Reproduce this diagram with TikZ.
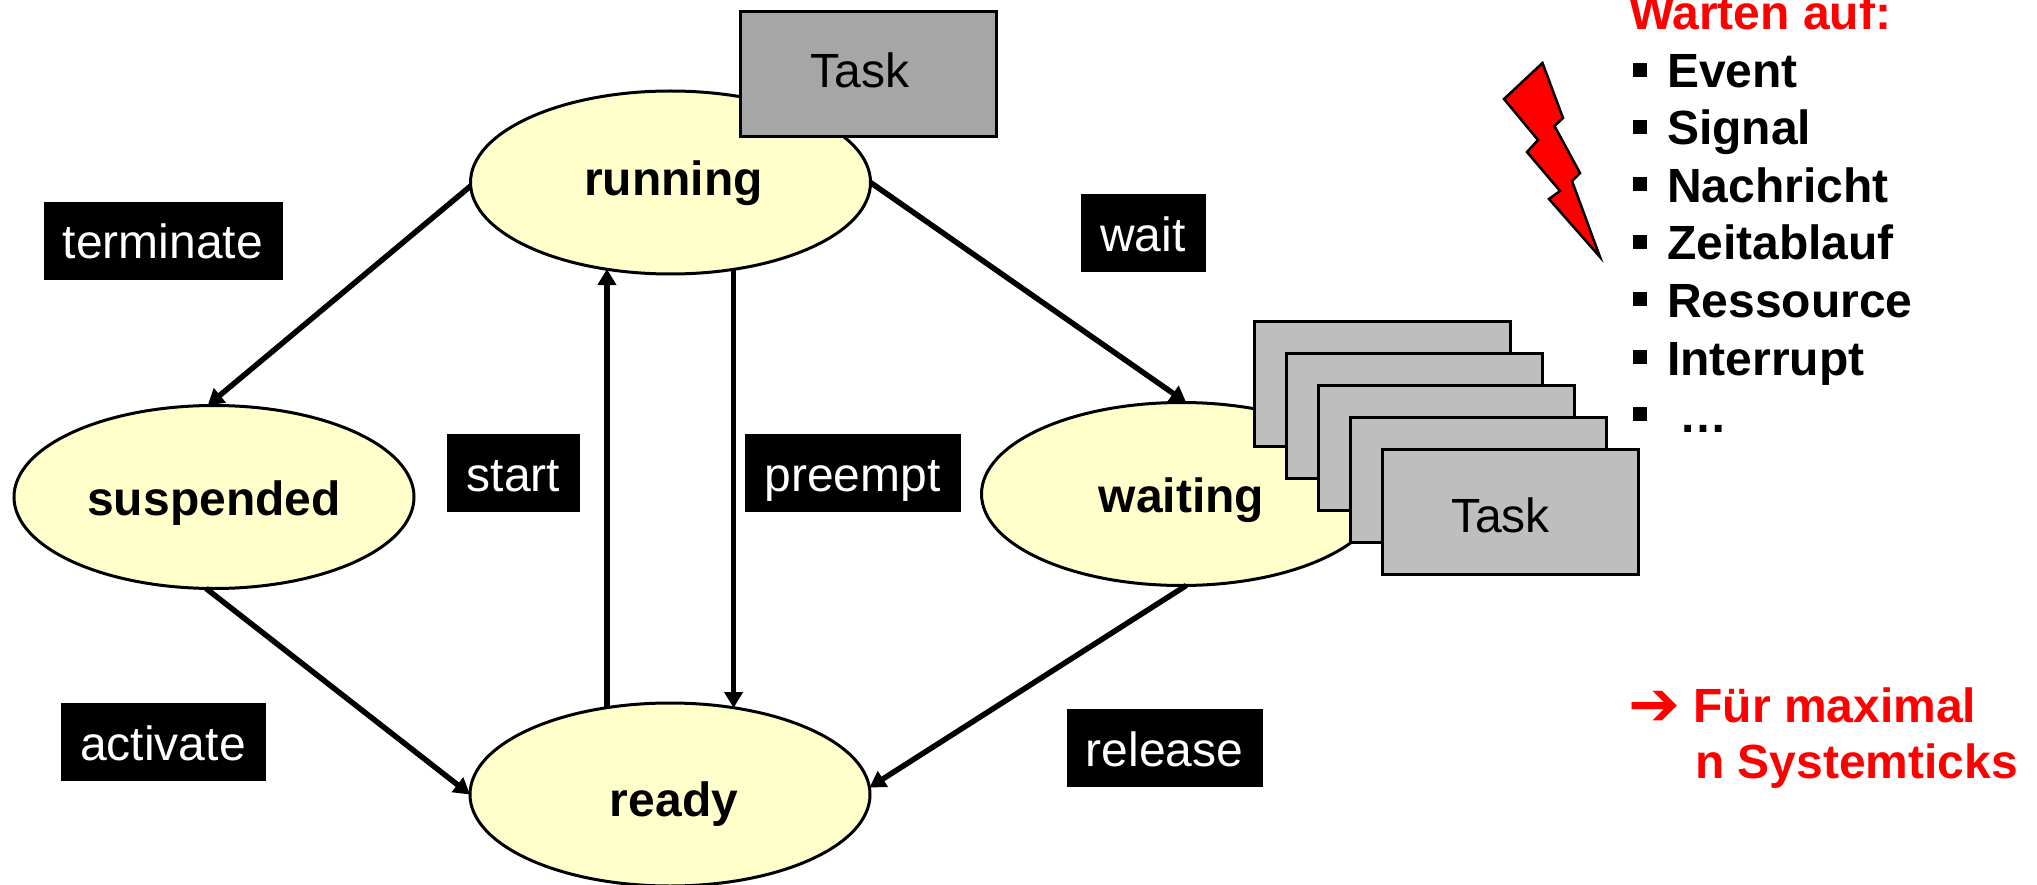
\documentclass[tikz,border=0pt]{standalone}
\usepackage{fontspec}
\setmainfont{Liberation Sans}
\newfontfamily\symfont{DejaVu Sans Bold}
\usetikzlibrary{arrows.meta,shapes.geometric}
\definecolor{statefill}{HTML}{FFFFCC}
\definecolor{taskrun}{HTML}{A6A6A6}
\definecolor{taskwait}{HTML}{BEBEBE}
\definecolor{alarm}{HTML}{FF0000}
\tikzset{
  state/.style={ellipse,draw=black,line width=3pt,fill=statefill,minimum width=400pt,minimum height=183pt,inner sep=0pt,outer sep=0pt,font=\fontsize{48}{48}\selectfont\bfseries,text height=35pt,text depth=9pt},
  taskbox/.style={rectangle,draw=black,line width=3pt,minimum width=256pt,minimum height=125pt,inner sep=0pt,outer sep=0pt,font=\fontsize{48}{48}\selectfont,text height=34pt,text depth=0pt},
  evt/.style={rectangle,fill=black,text=white,inner sep=0pt,outer sep=0pt,minimum height=78pt,font=\fontsize{48}{48}\selectfont,text height=36pt,text depth=0pt},
  flow/.style={draw=black,line width=5.5pt,-{Triangle[length=16pt,width=18pt]}},
  item/.style={anchor=base west,inner sep=0pt,outer sep=0pt,font=\fontsize{48}{48}\selectfont\bfseries},
  redtext/.style={item,text=alarm},
  bullet/.style={rectangle,fill=black,minimum size=14pt,inner sep=0pt,outer sep=0pt}
}
\begin{document}
\begin{tikzpicture}[x=1pt,y=-1pt]
\useasboundingbox (0,0) rectangle (2037,885);
% states
\node[state] (running) at (670.5,182.5) {\hspace*{6pt}running};
\node[state,text height=45pt] (suspended) at (214,497) {suspended};
\node[state,text height=45pt] (waiting) at (1181.5,494) {waiting};
\node[state,text height=53pt] (ready) at (670,794.5) {\hspace*{8pt}ready};
% connectors
\draw[flow] (running.181) -- (suspended.94);
\draw[flow] (ready.126.4) -- (ready.126.4 |- running.233.6);
\draw[flow] (running.306.7) -- (running.306.7 |- ready.53.6);
\draw[flow] (running.0) -- (waiting.87);
\draw[flow] (suspended.265) -- (ready.180);
\draw[flow] (waiting.273) -- (ready.2);
% event labels
\node[evt,minimum width=239pt] (terminate) at (163,241) {terminate};
\node[evt,minimum width=125pt] (wait) at (1143,233.5) {wait};
\node[evt,minimum width=133pt] (start) at (513.5,473) {start};
\node[evt,minimum width=216pt] (preempt) at (852.5,473) {preempt};
\node[evt,minimum width=205pt] (activate) at (163,742) {activate};
\node[evt,minimum width=196pt] (release) at (1164.5,748) {release};
% tasks
\node[taskbox,fill=taskrun,text height=28pt] (task1) at (868,73.8) {Task\hspace*{16pt}};
\node[taskbox,fill=taskwait] (w1) at (1382.5,383.5) {};
\node[taskbox,fill=taskwait] (w2) at (1414.5,415.5) {};
\node[taskbox,fill=taskwait] (w3) at (1446.5,447.5) {};
\node[taskbox,fill=taskwait] (w4) at (1478.5,479.5) {};
\node[taskbox,fill=taskwait,text height=42pt] (w5) at (1510.5,511.5) {Task\hspace*{20pt}};
% lightning
\filldraw[fill=alarm,draw=black,line width=2.5pt,line join=miter] (1542.5,63) -- (1563,118) -- (1554.5,126) -- (1580,173) -- (1572,181) -- (1600,257) -- (1549,199) -- (1560,191) -- (1527,152) -- (1538,140) -- (1504,99) -- cycle;
% list
\node[redtext] (head) at (1629,30) {Warten auf:};
\node[item] (l1) at (1667,88) {Event};
\node[item] (l2) at (1667,145) {Signal};
\node[item] (l3) at (1667,202.5) {Nachricht};
\node[item] (l4) at (1667,260) {Zeitablauf};
\node[item] (l5) at (1667,317.5) {Ressource};
\node[item] (l6) at (1667,375) {Interrupt};
\node[item] (l7) at (1679,432) {…};
\foreach \n/\y in {1/70,2/127,3/184,4/242,5/299,6/357,7/414}
  \node[bullet] (b\n) at (1639.5,\y) {};
% note
\node[redtext,font=\fontsize{62}{62}\selectfont\symfont] (arrow) at (1628,725) {➔};
\node[redtext] (note1) at (1693.5,722) {Für maximal};
\node[redtext] (note2) at (1695,778) {n Systemticks};
\end{tikzpicture}
\end{document}
